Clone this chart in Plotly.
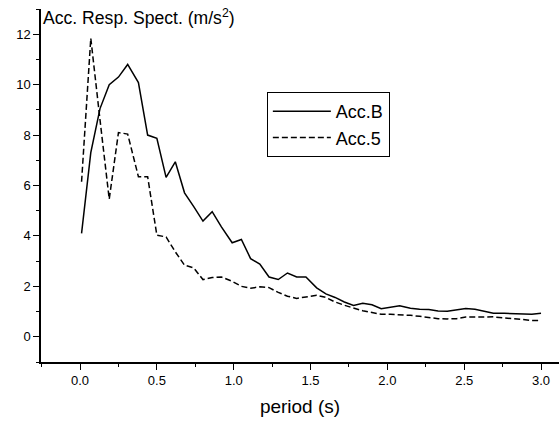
import plotly.graph_objects as go

period = [0.01, 0.07, 0.13, 0.19, 0.25, 0.31, 0.38, 0.44, 0.50, 0.56,
          0.62, 0.68, 0.74, 0.80, 0.86, 0.92, 0.99, 1.05, 1.11, 1.17,
          1.23, 1.29, 1.35, 1.41, 1.47, 1.54, 1.60, 1.66, 1.72, 1.78,
          1.84, 1.90, 1.96, 2.02, 2.08, 2.15, 2.21, 2.27, 2.33, 2.39,
          2.45, 2.51, 2.57, 2.63, 2.69, 2.76, 2.82, 2.88, 2.94, 3.00]

acc_b = [4.10, 7.30, 9.05, 10.00, 10.30, 10.80, 10.08, 8.00, 7.87, 6.32,
         6.94, 5.71, 5.16, 4.59, 4.96, 4.36, 3.73, 3.86, 3.10, 2.88,
         2.37, 2.27, 2.53, 2.37, 2.37, 1.94, 1.70, 1.56, 1.38, 1.24,
         1.33, 1.27, 1.11, 1.18, 1.23, 1.13, 1.09, 1.08, 1.02, 1.01,
         1.05, 1.12, 1.09, 1.01, 0.93, 0.93, 0.92, 0.91, 0.89, 0.93]

acc_5 = [6.15, 11.84, 8.60, 5.46, 8.10, 8.04, 6.35, 6.35, 4.03, 3.96,
         3.37, 2.84, 2.73, 2.27, 2.35, 2.37, 2.20, 2.00, 1.93, 1.98,
         1.95, 1.76, 1.61, 1.52, 1.58, 1.65, 1.56, 1.38, 1.25, 1.14,
         1.03, 0.96, 0.89, 0.89, 0.88, 0.85, 0.81, 0.76, 0.72, 0.71,
         0.72, 0.78, 0.79, 0.79, 0.79, 0.75, 0.71, 0.67, 0.65, 0.65]

series_names = ["Acc.B", "Acc.5"]
y_title = "Acc. Resp. Spect. (m/s<sup>2</sup>)"
x_title = "period (s)"

font_family = "Liberation Sans, Arial, sans-serif"

fig = go.Figure()
fig.add_trace(go.Scatter(x=period, y=acc_b, mode="lines", name=series_names[0],
                         line=dict(color="black", width=1.5)))
fig.add_trace(go.Scatter(x=period, y=acc_5, mode="lines", name=series_names[1],
                         line=dict(color="black", width=1.5, dash="6px,3px")))

fig.update_layout(
    width=559, height=425,
    margin=dict(l=41, r=0, t=9, b=63),
    paper_bgcolor="white", plot_bgcolor="white",
    font=dict(family=font_family, size=13, color="black"),
    showlegend=True,
    legend=dict(x=0.436, y=0.765, xanchor="left", yanchor="top",
                bordercolor="black", borderwidth=1, bgcolor="white",
                font=dict(size=18, family=font_family), itemwidth=58,
                tracegroupgap=0),
    xaxis=dict(range=[-0.254, 3.117], dtick=0.5, tick0=0, tickformat=".1f",
               showgrid=False, zeroline=False, showline=True, linecolor="black",
               linewidth=1.5, ticks="outside", ticklen=6, tickwidth=1.2,
               tickcolor="black",
               minor=dict(dtick=0.25, tick0=0, ticks="outside", ticklen=3,
                          tickwidth=1.2, tickcolor="black", showgrid=False),
               title=dict(text=x_title, font=dict(size=19), standoff=12),
               tickfont=dict(size=13)),
    yaxis=dict(range=[-1, 13], dtick=2, tick0=0,
               showgrid=False, zeroline=False, showline=True, linecolor="black",
               linewidth=1.5, ticks="outside", ticklen=6, tickwidth=1.2,
               tickcolor="black",
               minor=dict(dtick=1, tick0=0, ticks="outside", ticklen=3,
                          tickwidth=1.2, tickcolor="black", showgrid=False),
               tickfont=dict(size=13)),
    annotations=[dict(text=y_title, xref="paper", yref="paper", x=0.0, y=1,
                      xanchor="left", yanchor="top", yshift=5, showarrow=False,
                      font=dict(size=17.6, family=font_family))],
)

fig.write_html("out.html")
